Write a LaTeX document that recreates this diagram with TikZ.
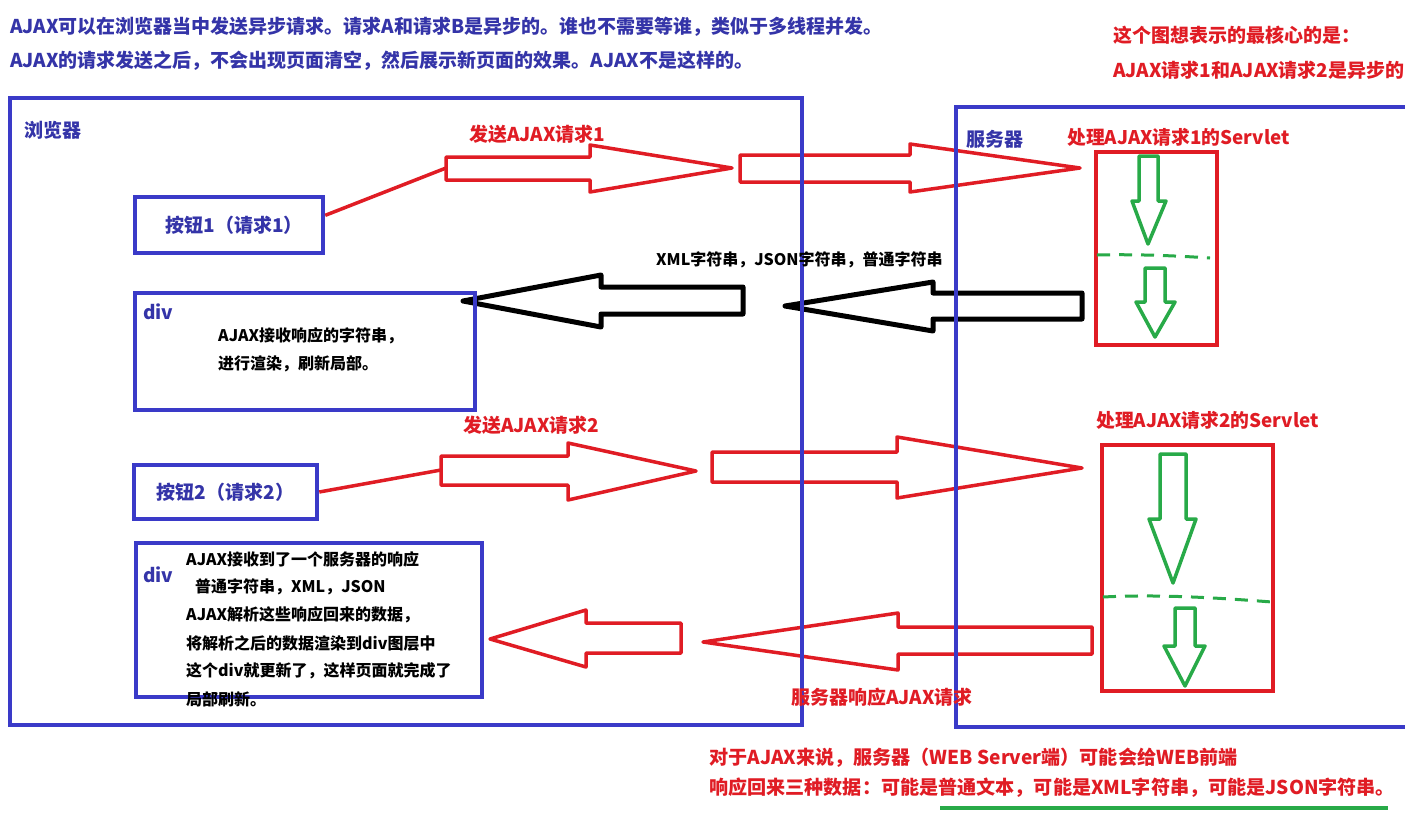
\documentclass[tikz,border=0pt]{standalone}
\usepackage{fontspec}
\setmainfont{Noto Sans CJK SC}
\usetikzlibrary{calc}
\definecolor{bbox}{RGB}{58,58,200}
\definecolor{btext}{RGB}{52,52,168}
\definecolor{rr}{RGB}{224,28,36}
\definecolor{gg}{RGB}{40,170,72}
\begin{document}
\begin{tikzpicture}[x=1pt,y=-1pt,
  txt/.style={inner sep=0pt, anchor=west, font=\fontsize{19}{22}\selectfont\bfseries},
  bottxt/.style={inner sep=0pt, anchor=west, font=\fontsize{19.1}{22}\selectfont\bfseries},
  servtxt/.style={inner sep=0pt, anchor=west, font=\fontsize{18.8}{22}\selectfont\bfseries},
  smalltxt/.style={inner sep=0pt, anchor=west, font=\fontsize{16}{19}\selectfont\bfseries},
  bluebox/.style={draw=bbox, line width=4pt, rectangle, inner sep=0pt},
  redbox/.style={draw=rr, line width=4pt, rectangle, inner sep=0pt},
  redarrow/.style={draw=rr, line width=3.5pt, line join=round},
  blackarrow/.style={draw=black, line width=5pt, line join=round},
  greenarrow/.style={draw=gg, line width=3.5pt, line join=round},
  greendash/.style={draw=gg, line width=3pt, dash pattern=on 13pt off 9pt},
  redlink/.style={draw=rr, line width=3.5pt}]
\useasboundingbox[fill=white] (0,0) rectangle (1405,815);

% top texts
\node[txt, text=btext] (t1) at (10,27) {AJAX可以在浏览器当中发送异步请求。请求A和请求B是异步的。谁也不需要等谁，类似于多线程并发。};
\node[txt, text=btext] (t2) at (10,61) {AJAX的请求发送之后，不会出现页面清空，然后展示新页面的效果。AJAX不是这样的。};
\node[txt, text=rr] (t3) at (1113,35) {这个图想表示的最核心的是：};
\node[txt, text=rr] (t4) at (1113,70) {AJAX请求1和AJAX请求2是异步的};

% arrows (drawn below boxes)
\draw[redarrow] (446,157) -- (590,157) -- (590,145) -- (732,168) -- (590,192) -- (590,180) -- (446,180) -- cycle;
\draw[redarrow] (740,155) -- (910,155) -- (910,144) -- (1080,168) -- (910,192) -- (910,182) -- (740,182) -- cycle;
\draw[blackarrow] (743,287) -- (601,287) -- (601,275) -- (463,301) -- (601,327) -- (601,314) -- (743,314) -- cycle;
\draw[blackarrow] (1082,293) -- (933,293) -- (933,282) -- (785,306) -- (933,331) -- (933,319) -- (1082,319) -- cycle;
\draw[redarrow] (441,456) -- (568,456) -- (568,443) -- (696,471) -- (568,500) -- (568,485) -- (441,485) -- cycle;
\draw[redarrow] (712,452) -- (897,452) -- (897,437) -- (1082,468) -- (897,498) -- (897,482) -- (712,482) -- cycle;
\draw[redarrow] (681,623) -- (586,623) -- (586,610) -- (490,639) -- (586,667) -- (586,653) -- (681,653) -- cycle;
\draw[redarrow] (1092,627) -- (898,627) -- (898,613) -- (703,642) -- (898,670) -- (898,654) -- (1092,654) -- cycle;
\coordinate (a1tail) at (446,168);
\coordinate (a2tail) at (441,470);

% big boxes
\node[bluebox, minimum width=792pt, minimum height=627pt] (browser) at (406,411.5) {};
\node[bluebox, minimum width=470pt, minimum height=620pt] (server) at (1191,417) {};
\node[txt, text=btext] (blbl) at (24,130) {浏览器};
\node[txt, text=btext] (slbl) at (966,139) {服务器};

% buttons
\node[bluebox, line width=4.5pt, minimum width=188pt, minimum height=56pt, text=btext, font=\fontsize{19}{22}\selectfont\bfseries] (btn1) at (229,225) {\hspace{10pt}按钮1（请求1）};
\node[bluebox, line width=4.5pt, minimum width=183pt, minimum height=54pt, text=btext, font=\fontsize{19}{22}\selectfont\bfseries] (btn2) at (225.5,492) {按钮2（请求2）};
\draw[redlink] ($(btn1.north east)!0.34!(btn1.south east)$) -- (a1tail);
\draw[redlink] (btn2.east) -- (a2tail);

% div boxes
\node[bluebox, minimum width=340pt, minimum height=117pt] (div1) at (305,351.5) {};
\node[bluebox, minimum width=346pt, minimum height=154pt] (div2) at (309,620) {};
\node[txt, text=btext] (d1l) at (143,312) {div};
\node[smalltxt] (d1a) at (218,336) {AJAX接收响应的字符串，};
\node[smalltxt] (d1b) at (218,364) {进行渲染，刷新局部。};
\node[txt, text=btext] (d2l) at (143,575) {div};
\node[smalltxt] (d2a) at (186,559) {AJAX接收到了一个服务器的响应};
\node[smalltxt] (d2b) at (195,587) {普通字符串，XML，JSON};
\node[smalltxt] (d2c) at (186,615) {AJAX解析这些响应回来的数据，};
\node[smalltxt] (d2d) at (186,643) {将解析之后的数据渲染到div图层中};
\node[smalltxt] (d2e) at (186,671) {这个div就更新了，这样页面就完成了};
\node[smalltxt] (d2f) at (186,699) {局部刷新。};

% labels
\node[txt, text=rr] (l1) at (469,134) {发送AJAX请求1};
\node[txt, text=rr] (l2) at (463,425) {发送AJAX请求2};
\node[smalltxt] (lx) at (656,260) {XML字符串，JSON字符串，普通字符串};
\node[txt, text=rr] (l3) at (791,697) {服务器响应AJAX请求};

% servlets
\node[servtxt, text=rr] (s1l) at (1067,137) {处理AJAX请求1的Servlet};
\node[servtxt, text=rr] (s2l) at (1096,420) {处理AJAX请求2的Servlet};
\node[redbox, minimum width=121pt, minimum height=193pt] (s1) at (1156.5,248.5) {};
\node[redbox, minimum width=171pt, minimum height=246pt] (s2) at (1187.5,568) {};
\draw[greenarrow] (1139,156) -- (1158,156) -- (1158,201) -- (1166,201) -- (1148,244) -- (1132,201) -- (1139,201) -- cycle;
\draw[greenarrow] (1145,268) -- (1165,268) -- (1165,302) -- (1175,302) -- (1155,337) -- (1136,302) -- (1145,302) -- cycle;
\draw[greenarrow] (1160,454) -- (1186,454) -- (1186,519) -- (1196,519) -- (1173,583) -- (1149,519) -- (1160,519) -- cycle;
\draw[greenarrow] (1175,608) -- (1195,608) -- (1195,646) -- (1205,646) -- (1185,686) -- (1164,646) -- (1175,646) -- cycle;
\draw[greendash] (1097,255) .. controls (1140,254) and (1180,256) .. (1210,258);
\draw[greendash] (1103,597) .. controls (1160,594) and (1220,598) .. (1272,602);

% bottom text
\node[bottxt, text=rr] (b1) at (709,758) {对于AJAX来说，服务器（WEB Server端）可能会给WEB前端};
\node[bottxt, text=rr] (b2) at (709,788) {响应回来三种数据：可能是普通文本，可能是XML字符串，可能是JSON字符串。};
\coordinate (u1) at (940,808);
\coordinate (u2) at (1388,808);
\draw[gg, line width=3.5pt] (u1) -- (u2);
\end{tikzpicture}
\end{document}
